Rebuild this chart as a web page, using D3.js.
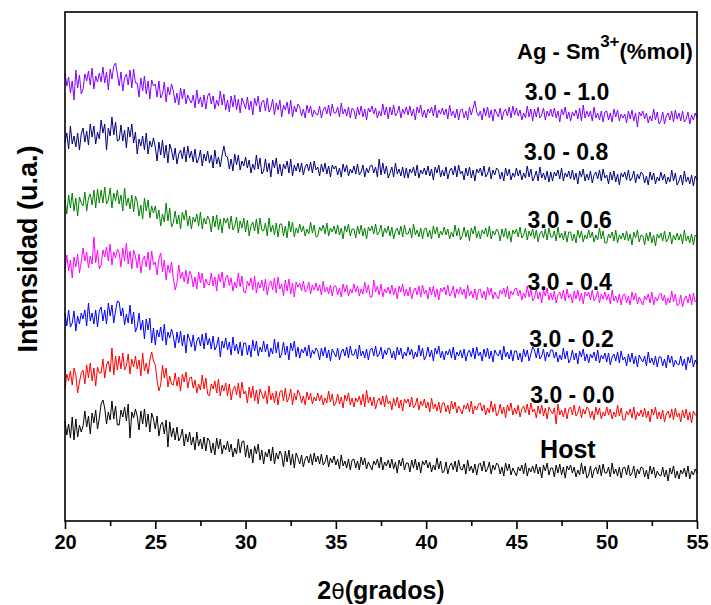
<!DOCTYPE html>
<html>
<head>
<meta charset="utf-8">
<script src="https://cdn.jsdelivr.net/npm/d3@7"></script>
<style>
  html, body { margin: 0; padding: 0; background: #fff; }
  svg { display: block; }
  text { font-family: "Liberation Sans", Arial, sans-serif; font-weight: bold; fill: #000; }
</style>
</head>
<body>
<svg id="chart" width="711" height="605"></svg>
<script>
// ---- Data (2θ from 20 to 55 in 0.1° steps; intensities in arbitrary units, stacked) ----
const twoThetaStart = 20;
const twoThetaStep = 0.1;
const xTicks = [20, 25, 30, 35, 40, 45, 50, 55];
const xMinorTicks = [22.5, 27.5, 32.5, 37.5, 42.5, 47.5, 52.5];
const seriesNames = ["Host", "3.0 - 0.0", "3.0 - 0.2", "3.0 - 0.4", "3.0 - 0.6", "3.0 - 0.8", "3.0 - 1.0"];
const seriesColors = ["#000000", "#ff0000", "#0000ff", "#ff00ff", "#008000", "#000080", "#8000ff"];

const host = [
100,86,97,83,104,81,102,84,96,89,
95,110,94,105,87,108,98,111,92,103,
117,121,113,97,109,101,120,102,115,96,
96,111,104,114,100,117,83,109,103,112,
105,91,110,97,112,94,107,89,108,102,
92,105,85,96,99,87,101,74,99,84,
93,81,94,80,84,92,75,87,79,89,
76,84,71,89,75,82,72,84,70,83,
80,68,78,66,83,72,82,67,76,71,
80,69,77,64,73,67,82,68,79,80,
64,76,63,72,58,75,67,77,61,71,
57,69,64,72,60,74,57,68,62,70,
66,54,70,59,71,56,67,53,68,63,
57,66,54,62,65,58,67,56,68,59,
65,57,67,56,59,66,54,63,58,65,
56,62,52,66,55,60,53,62,51,61,
62,53,60,51,64,56,63,52,59,55,
51,60,56,62,53,64,51,59,55,61,
53,62,52,59,48,61,55,63,51,58,
58,49,61,53,62,51,59,48,60,56,
61,53,59,49,56,51,63,52,60,48,
50,59,47,55,58,51,60,49,61,52,
51,57,47,61,50,55,48,57,46,56,
58,50,60,49,52,59,47,56,51,58,
56,47,54,45,58,50,57,46,53,49,
45,54,50,56,47,58,45,53,49,55,
48,57,47,54,43,56,50,58,46,53,
53,44,56,48,57,46,54,43,55,51,
56,48,54,44,51,46,58,47,55,43,
46,55,43,51,54,47,56,45,57,48,
48,54,44,58,47,52,45,54,43,53,
54,46,56,45,48,55,43,52,47,54,
53,44,51,42,55,47,54,43,50,46,
45,54,44,51,40,53,47,55,43,50,
42,51,47,53,44,55,42,50,46,52,
48];

const ag30sm00 = [
132,147,140,150,136,153,146,128,139,148,
151,137,156,143,158,140,153,135,154,148,
148,162,143,156,160,149,173,146,165,151,
165,152,168,151,155,167,147,162,154,165,
152,161,145,168,150,158,147,161,169,160,
156,141,130,136,156,143,153,134,145,137,
136,148,135,144,130,147,139,149,133,143,
144,133,141,128,137,131,146,132,143,127,
125,137,132,140,128,142,125,136,130,138,
125,137,121,131,135,126,138,123,139,127,
130,118,134,123,135,120,131,117,132,127,
122,130,117,135,121,128,118,130,116,129,
131,120,133,119,123,132,116,128,121,131,
127,118,125,116,129,121,128,117,124,120,
128,120,126,116,123,118,130,119,127,115,
118,127,117,124,113,126,120,128,116,123,
114,123,119,125,116,127,114,131,118,124,
115,124,112,120,123,116,125,114,126,117,
120,111,123,115,124,113,121,110,122,118,
122,114,124,113,116,123,111,120,115,122,
113,119,109,123,112,117,110,119,108,118,
118,109,116,107,120,112,119,108,115,111,
107,116,112,118,109,120,107,115,111,117,
118,110,116,106,113,108,120,109,117,105,
108,117,107,114,103,116,110,118,106,113,
107,116,104,112,115,108,117,106,118,109,
112,103,115,107,116,105,113,102,114,110,
107,113,97,117,106,111,104,113,102,112,
114,106,116,105,108,115,103,112,107,114,
112,103,110,101,114,106,113,102,109,105,
114,106,112,102,109,104,116,105,113,101,
101,110,106,112,103,114,101,109,105,111,
104,113,103,110,99,112,106,114,102,109,
102,111,99,107,110,103,112,101,113,104,
108,99,111,103,112,101,109,98,110,106,
106];

const ag30sm02 = [
208,195,211,194,198,210,190,205,197,208,
202,211,195,218,200,208,197,211,194,210,
214,200,211,197,218,205,216,198,210,220,
219,205,213,196,207,198,216,197,209,189,
194,208,191,201,182,202,191,203,178,193,
176,191,184,194,180,197,176,189,183,192,
185,173,189,178,190,175,186,168,187,182,
174,186,170,180,184,175,187,172,188,176,
183,172,185,171,175,184,164,180,173,183,
171,179,166,184,170,177,167,179,165,178,
178,166,176,164,181,170,180,165,174,169,
180,169,177,164,173,167,182,168,179,163,
167,179,166,175,161,178,170,180,164,174,
163,172,168,174,165,176,163,171,167,173,
170,161,173,165,174,163,171,160,172,168,
164,173,161,169,172,165,174,163,175,166,
166,172,162,176,165,170,163,172,161,171,
173,165,175,164,167,174,162,171,166,173,
172,163,170,161,174,166,173,162,169,165,
174,166,172,162,169,164,176,165,173,161,
165,174,164,171,160,173,167,175,163,170,
161,170,166,172,163,174,161,169,165,171,
163,172,160,168,171,164,173,162,174,165,
169,160,172,164,173,162,170,159,171,167,
165,171,161,175,164,169,162,171,160,170,
170,161,168,159,172,164,171,160,167,174,
171,163,173,162,165,172,160,169,164,171,
171,163,169,159,166,161,173,162,170,158,
162,171,161,168,157,170,164,172,160,167,
158,167,163,169,160,171,158,166,162,168,
159,168,156,164,167,160,169,158,170,161,
164,155,167,159,168,157,165,154,166,162,
159,165,155,169,158,163,156,165,154,164,
164,155,162,153,166,158,165,154,161,157,
156,165,155,162,151,164,158,166,154,161,
157];

const ag30sm04 = [
251,266,250,261,243,264,254,267,248,259,
273,260,269,253,265,257,284,258,271,252,
256,271,264,274,260,277,256,269,263,272,
268,254,273,260,278,257,270,252,271,265,
253,267,248,261,265,254,269,251,270,256,
259,246,262,268,249,261,241,256,248,259,
243,231,238,256,242,249,239,251,237,250,
246,234,244,232,249,238,248,233,242,237,
236,248,235,244,230,247,239,249,233,243,
246,235,243,230,239,233,248,234,245,229,
228,240,235,243,231,245,228,239,233,241,
230,242,226,236,240,231,243,228,244,232,
237,225,241,230,242,227,238,224,239,234,
238,230,240,229,232,239,227,236,231,238,
230,236,226,240,229,234,227,236,225,235,
235,226,233,224,237,229,236,225,232,228,
237,229,235,225,232,227,239,228,236,224,
224,241,229,235,226,237,224,232,228,234,
227,236,226,233,222,235,229,237,225,232,
225,234,222,230,233,226,235,224,236,227,
231,222,234,226,235,224,232,221,233,229,
234,226,236,225,228,235,223,232,227,234,
226,232,222,236,225,230,223,232,221,231,
232,223,230,221,234,226,233,222,229,225,
222,231,227,233,224,235,222,230,226,232,
233,225,231,221,228,223,235,224,232,220,
223,232,222,229,218,231,225,233,221,228,
221,230,218,226,229,222,231,220,232,223,
227,218,230,222,231,220,228,217,229,225,
229,221,231,220,223,230,218,227,222,229,
221,227,217,231,220,225,218,227,216,226,
227,218,225,216,229,221,228,217,224,220,
216,225,221,227,218,229,216,224,220,226,
228,220,226,216,223,218,230,219,227,215,
217,226,214,222,225,218,227,216,228,219,
221];

const ag30sm06 = [
321,307,326,313,328,310,323,305,324,318,
315,329,310,323,327,316,331,313,332,318,
331,318,334,317,321,333,313,328,320,331,
317,326,310,333,315,323,312,326,309,325,
319,305,316,302,323,310,321,303,315,308,
315,302,311,295,307,299,318,300,313,294,
298,310,297,306,292,309,301,311,295,305,
292,304,299,307,295,309,292,303,297,305,
301,289,305,294,306,291,302,288,303,298,
303,292,305,291,295,304,288,300,293,303,
289,301,285,295,299,290,302,287,303,291,
290,298,285,303,289,296,286,298,284,297,
297,285,295,283,300,289,299,284,293,288,
297,289,295,285,292,287,299,288,296,284,
285,294,290,296,287,298,285,293,289,295,
287,296,286,293,282,295,289,297,285,292,
292,283,295,287,296,285,293,282,294,290,
295,287,297,286,289,296,284,293,288,295,
285,294,282,290,293,286,295,284,296,287,
287,293,283,297,286,291,284,293,282,292,
293,284,291,282,295,287,294,283,290,286,
294,286,292,282,289,284,296,285,293,281,
285,294,284,291,280,293,287,295,283,290,
282,291,287,293,284,295,282,290,286,292,
289,280,292,284,293,282,290,279,291,287,
292,284,294,283,286,293,281,290,285,292,
282,291,279,287,290,283,292,281,293,284,
284,290,280,294,283,288,281,290,279,289,
289,280,287,278,291,283,290,279,286,282,
291,283,289,279,286,281,293,282,290,278,
278,287,283,289,280,291,278,286,282,288,
281,290,280,287,276,289,283,291,279,286,
285,276,288,280,289,278,286,275,287,283,
288,280,290,279,282,289,277,286,281,288,
281,287,277,291,280,285,278,287,276,286,
284];

const ag30sm08 = [
379,388,372,395,377,385,374,388,371,387,
393,379,390,376,397,384,395,377,389,382,
401,388,397,371,393,385,404,386,399,380,
381,396,380,391,373,394,384,397,378,389,
367,382,375,385,371,388,367,380,374,383,
374,360,379,366,381,363,376,358,377,371,
361,373,357,367,371,362,374,359,375,363,
370,359,372,358,362,371,355,367,360,370,
358,366,353,371,357,364,354,366,375,365,
364,352,362,350,367,356,366,351,360,355,
364,353,361,348,357,351,366,352,363,347,
350,362,349,358,344,361,353,363,347,357,
345,357,352,360,348,362,345,356,350,358,
349,358,346,354,357,350,359,348,360,351,
354,345,357,349,358,347,355,344,356,352,
355,346,353,344,357,349,356,345,352,348,
355,347,357,346,349,356,344,353,348,355,
356,348,354,344,362,346,358,347,355,343,
348,354,344,358,347,352,345,354,343,353,
343,352,348,354,345,356,343,351,347,353,
346,355,345,352,341,354,348,356,344,351,
345,354,342,350,353,346,355,344,356,347,
350,341,353,345,354,343,351,340,352,348,
353,345,355,344,347,354,342,351,346,353,
351,342,349,340,353,345,352,341,348,344,
353,345,351,341,348,343,355,344,352,340,
344,350,340,354,343,348,341,350,339,349,
340,349,345,351,342,353,340,348,344,350,
342,351,341,348,337,350,344,352,340,347,
341,350,338,346,349,342,351,340,352,343,
346,337,349,341,350,339,347,336,348,344,
349,341,351,340,343,350,338,347,342,349,
347,338,345,336,349,341,348,337,344,340,
349,341,347,337,344,339,351,340,348,336,
340,346,336,350,339,344,337,346,335,345,
341];

const ag30sm10 = [
448,435,444,428,440,421,451,433,446,427,
432,447,440,450,436,453,432,445,439,448,
439,454,438,449,431,452,442,455,458,447,
435,449,430,443,447,436,451,433,452,438,
438,424,443,430,445,427,440,422,441,435,
437,424,440,423,427,439,419,434,426,437,
430,418,428,416,433,422,432,417,426,421,
418,426,413,431,417,424,414,426,412,425,
428,417,425,412,421,415,430,416,427,411,
421,409,425,414,426,411,422,408,423,418,
412,424,411,420,406,423,415,425,409,419,
421,410,423,409,413,422,406,418,411,421,
404,416,411,419,407,421,404,415,409,417,
414,405,412,403,416,408,415,404,411,407,
406,415,403,411,414,407,416,405,417,408,
408,414,404,418,407,412,405,414,403,413,
411,402,414,406,415,404,412,401,413,409,
415,407,413,403,410,405,417,406,414,402,
414,406,416,405,408,415,403,412,407,414,
406,415,405,412,401,414,408,416,404,411,
403,412,408,414,405,416,403,411,407,413,
406,412,402,416,405,410,403,412,401,411,
412,403,410,401,414,406,413,420,409,405,
410,401,413,405,414,403,411,400,412,408,
404,413,401,409,412,405,414,403,415,406,
413,405,411,401,408,403,415,404,412,400,
412,404,414,403,406,413,401,410,405,412,
404,413,403,410,399,412,406,414,402,409,
400,409,405,411,402,413,400,416,403,410,
404,410,400,414,403,408,401,410,399,409,
410,401,408,399,412,404,411,400,407,403,
407,398,410,402,411,400,408,394,409,405,
410,402,408,398,405,400,412,401,409,397,
400,409,397,405,408,401,410,399,411,402,
408,400,410,399,402,409,397,406,401,408,
403];

const seriesValues = [host, ag30sm00, ag30sm02, ag30sm04, ag30sm06, ag30sm08, ag30sm10];

// ---- Layout ----
const W = 711, H = 605;
const plot = { left: 65, right: 697, top: 12, bottom: 521 };

const svg = d3.select("#chart");
const x = d3.scaleLinear().domain([20, 55]).range([plot.left, plot.right]);
const y = d3.scaleLinear().domain([0, 509]).range([plot.bottom, plot.top]);

// series lines
const line = d3.line()
  .x(d => x(d[0]))
  .y(d => y(d[1]));

seriesValues.forEach((vals, i) => {
  const pts = vals.map((v, k) => [twoThetaStart + k * twoThetaStep, v]);
  svg.append("path")
    .datum(pts)
    .attr("fill", "none")
    .attr("stroke", seriesColors[i])
    .attr("stroke-width", 1)
    .attr("stroke-linejoin", "round")
    .attr("d", line);
});

// frame
svg.append("rect")
  .attr("x", plot.left).attr("y", plot.top)
  .attr("width", plot.right - plot.left).attr("height", plot.bottom - plot.top)
  .attr("fill", "none").attr("stroke", "#000").attr("stroke-width", 1.6);

// x axis (bottom)
const xAxis = d3.axisBottom(x).tickValues(xTicks).tickSize(8).tickPadding(6).tickFormat(d3.format("d"));
const gx = svg.append("g").attr("transform", `translate(0,${plot.bottom})`).call(xAxis);
gx.select(".domain").remove();
gx.selectAll(".tick line").attr("stroke", "#000").attr("stroke-width", 1.6);
gx.selectAll(".tick text")
  .attr("font-size", 20).attr("font-weight", "bold")
  .attr("font-family", "'Liberation Sans', Arial, sans-serif").attr("fill", "#000");

const xAxisMinor = d3.axisBottom(x).tickValues(xMinorTicks).tickSize(5).tickFormat("");
const gxm = svg.append("g").attr("transform", `translate(0,${plot.bottom})`).call(xAxisMinor);
gxm.select(".domain").remove();
gxm.selectAll(".tick line").attr("stroke", "#000").attr("stroke-width", 1.6);

// axis titles
const xt = svg.append("text")
  .attr("x", 381).attr("y", 599)
  .attr("text-anchor", "middle")
  .attr("font-size", 25);
xt.append("tspan").text("2");
xt.append("tspan").attr("font-family", "'DejaVu Sans', sans-serif").attr("font-weight", "normal").attr("font-size", 22).text("θ");
xt.append("tspan").text("(grados)");

svg.append("text")
  .attr("transform", "translate(37,249) rotate(-90)")
  .attr("text-anchor", "middle")
  .attr("font-size", 27)
  .text("Intensidad (u.a.)");

// legend header
const hdr = svg.append("text").attr("x", 517).attr("y", 59).attr("font-size", 22);
hdr.append("tspan").text("Ag - Sm");
hdr.append("tspan").attr("dy", -12).attr("font-size", 17).text("3+");
hdr.append("tspan").attr("dy", 12).text("(%mol)");

// series labels: anchor positions in data coordinates
const labelAnchors = [
  [47.85, 63], [48.1, 118], [48.05, 174], [47.95, 231], [47.95, 293], [47.75, 361], [47.8, 421]
];
seriesNames.forEach((name, i) => {
  svg.append("text")
    .attr("x", x(labelAnchors[i][0]))
    .attr("y", y(labelAnchors[i][1]))
    .attr("text-anchor", "middle")
    .attr("font-size", i === 0 ? 25 : 23)
    .text(name);
});
</script>
</body>
</html>
